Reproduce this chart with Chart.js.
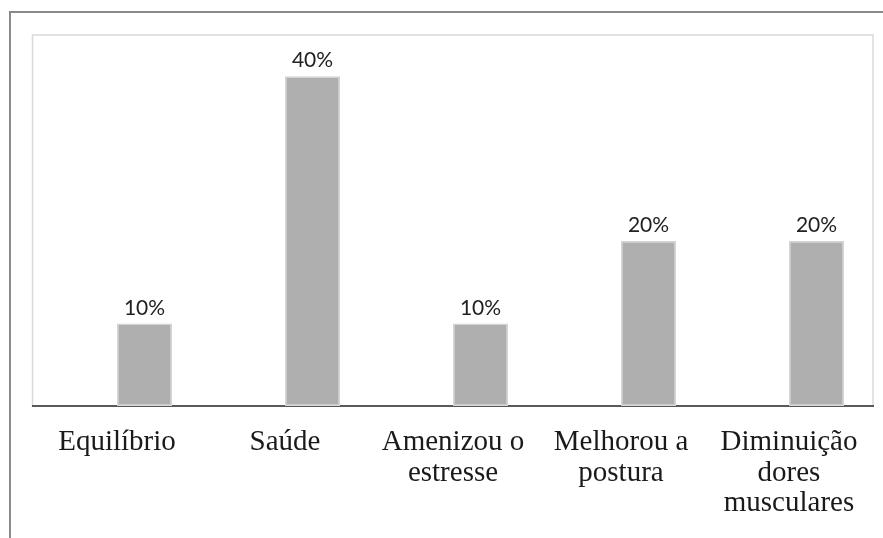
<!DOCTYPE html>
<html>
<head>
<meta charset="utf-8">
<script src="https://cdn.jsdelivr.net/npm/chart.js@4/dist/chart.umd.min.js"></script>
<style>
  html, body { margin: 0; padding: 0; background: #ffffff; }
  #wrap { width: 883px; height: 538px; position: relative; }
</style>
</head>
<body>
<div id="wrap"><canvas id="chart" width="883" height="538"></canvas></div>
<script>
// Benefícios relatados (% de respostas)
const categories = [
  'Equilíbrio',
  'Saúde',
  ['Amenizou o', 'estresse'],
  ['Melhorou a', 'postura'],
  ['Diminuição', 'dores', 'musculares']
];
const emptySeries = [null, null, null, null, null];
const percentValues = [10, 40, 10, 20, 20];
const valueAxisMax = 45;

// Outer frame lines and the light border round the plot area
const frames = {
  id: 'frames',
  beforeDraw(chart) {
    const { ctx, chartArea: a } = chart;
    ctx.save();
    ctx.strokeStyle = '#8a8a8a';
    ctx.lineWidth = 2;
    ctx.beginPath();
    ctx.moveTo(10, chart.height);
    ctx.lineTo(10, 12);
    ctx.lineTo(chart.width, 12);
    ctx.stroke();
    ctx.strokeStyle = '#d9d9d9';
    ctx.lineWidth = 1.5;
    ctx.strokeRect(a.left - 0.5, a.top, a.right - a.left + 0.5, a.bottom - a.top);
    ctx.restore();
  }
};

// Percentage labels above each bar
const valueLabels = {
  id: 'valueLabels',
  afterDatasetsDraw(chart) {
    const { ctx } = chart;
    const meta = chart.getDatasetMeta(1);
    const data = chart.data.datasets[1].data;
    ctx.save();
    ctx.fillStyle = '#222222';
    ctx.font = '21px Lato, "Open Sans", sans-serif';
    ctx.textAlign = 'center';
    ctx.textBaseline = 'bottom';
    meta.data.forEach((bar, i) => {
      if (data[i] == null) return;
      ctx.fillText(data[i] + '%', bar.x, bar.y - 5);
    });
    ctx.restore();
  }
};

new Chart(document.getElementById('chart'), {
  type: 'bar',
  data: {
    labels: categories,
    datasets: [
      {
        label: 'Série 1',
        data: emptySeries,
        backgroundColor: '#afafaf'
      },
      {
        label: 'Série 2',
        data: percentValues,
        backgroundColor: '#afafaf',
        borderColor: '#d4d4d4',
        borderWidth: 1.5,
        borderSkipped: false
      }
    ]
  },
  options: {
    responsive: false,
    animation: false,
    devicePixelRatio: 1,
    layout: { padding: { left: 33, right: 10, top: 35, bottom: 0 } },
    datasets: {
      bar: { categoryPercentage: 110 / 168, barPercentage: 1 }
    },
    plugins: {
      legend: { display: false },
      tooltip: { enabled: false }
    },
    scales: {
      y: {
        display: false,
        min: 0,
        max: valueAxisMax
      },
      x: {
        grid: { display: false, drawTicks: false },
        border: { display: true, color: '#595959', width: 2 },
        ticks: {
          color: '#1a1a1a',
          padding: 21,
          maxRotation: 0,
          autoSkip: false,
          font: { family: '"Liberation Serif", "Times New Roman", serif', size: 29, lineHeight: 1.06 }
        },
        afterFit(scale) { scale.height = 132; }
      }
    }
  },
  plugins: [frames, valueLabels]
});
</script>
</body>
</html>
